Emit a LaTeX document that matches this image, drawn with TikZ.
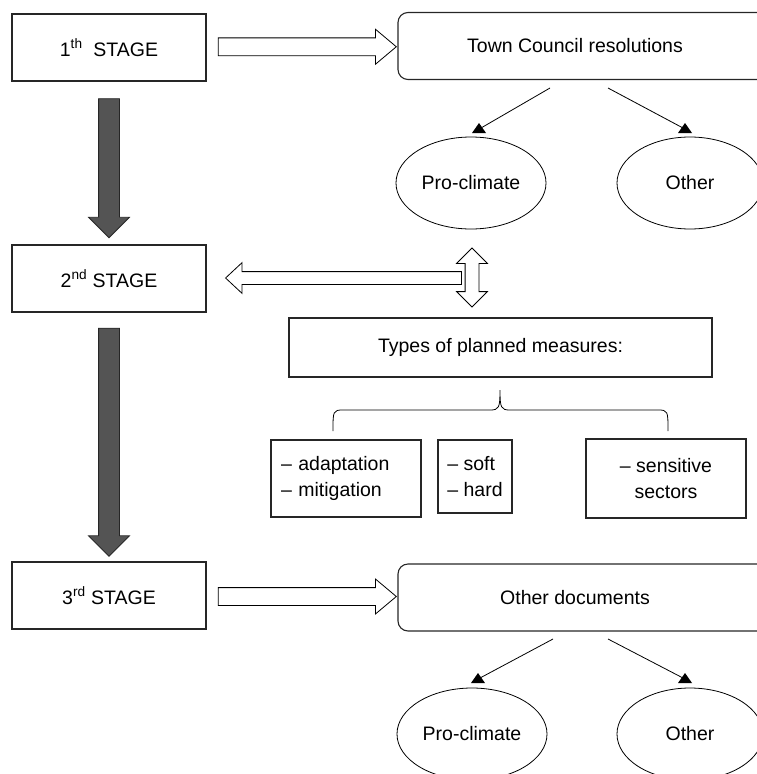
\documentclass[tikz,border=0pt]{standalone}
\usepackage{fontspec}
\setmainfont{Liberation Sans}
\usetikzlibrary{shapes.geometric,shapes.arrows,calc}

\tikzset{
    uphead/.pic = {\fill (-7,5) -- (7,5) -- (0,-5) -- cycle;}
}

\begin{document}
\begin{tikzpicture}[x=1pt, y=-1pt, font=\fontsize{19.5}{25.5}\selectfont,
    stage/.style = {draw=black!85, line width=1.1pt, minimum width=194pt, minimum height=67pt, inner sep=0pt},
    doc/.style = {draw=black!85, line width=1.1pt, rounded corners=10pt, minimum width=372pt, minimum height=67pt, inner sep=0pt},
    oval/.style = {draw, ellipse, line width=0.8pt, minimum width=150pt, minimum height=92pt, inner sep=0pt},
    item/.style = {draw=black!85, line width=1.1pt, inner ysep=0pt},
    hollow/.style = {draw, single arrow, fill=white, line width=0.8pt, inner xsep=0pt, inner ysep=8.5pt, minimum width=34pt, single arrow head extend=8.5pt, single arrow tip angle=80},
    heavy/.style = {draw=black!85, fill=black!67, single arrow, line width=0.8pt, inner xsep=0pt, inner ysep=10pt, minimum width=40pt, single arrow head extend=10pt, single arrow tip angle=90, rotate=-90}]

    \useasboundingbox (0,0) rectangle (756,774);

    \node[stage] (s1) at (109,47.5) {1\textsuperscript{th}\ \ STAGE};
    \node[stage] (s2) at (109,278.5) {2\textsuperscript{nd} STAGE};
    \node[stage] (s3) at (109,595.5) {3\textsuperscript{rd} STAGE};

    \node[heavy, minimum height=139pt] (d1) at ($(s1.south)!0.5!(s2.north)$) {};
    \node[heavy, minimum height=228pt] (d2) at ($(s2.south)!0.5!(s3.north)$) {};

    %--------------------------------------------

    \node[doc] (tc) at (584,46) {};
    \node (tctext) at (575,46) {Town Council resolutions};
    \node[hollow, minimum height=178pt] (a1) at ($(s1.east)!0.5!(tc.west)$) {};

    \node[oval] (pc1) at (471,183) {Pro-climate};
    \node[oval, minimum width=146pt] (ot1) at (690,183) {Other};

    \coordinate (c1) at (550,88);
    \coordinate (c2) at (608,88);
    \coordinate (h1) at (479,128);
    \coordinate (h2) at (685,128);
    \draw[line width=0.8pt] (c1) -- ([xshift=2pt]h1);
    \draw[line width=0.8pt] (c2) -- ([xshift=-2pt]h2);
    \pic at (h1) {uphead};
    \pic at (h2) {uphead};

    %--------------------------------------------

    \node[draw, double arrow, fill=white, line width=0.8pt, inner xsep=0pt, inner ysep=6.5pt, minimum width=30pt, minimum height=59pt,
        double arrow head extend=8.5pt, double arrow tip angle=90, rotate=90] (v2) at (472,277.5) {};
    \node[hollow, inner ysep=6pt, minimum width=30pt, minimum height=236pt, single arrow head extend=9pt, single arrow tip angle=86,
        rotate=180] (a2) at (347,278) {};

    \node[item, minimum width=423pt, minimum height=59pt] (tp) at (500.5,347.5) {Types of planned measures:};

    \draw[line width=0.8pt] (333,431) .. controls (333,411) and (333,410) .. (343,410) -- (490,410)
        .. controls (499,410) and (500,408) .. (500,390) .. controls (500,408) and (501,410) .. (510,410)
        -- (658,410) .. controls (668,410) and (668,411) .. (668,431);

    \node[item, text width=130pt, inner xsep=10pt, minimum height=77pt, align=left] (b1) at (346,478.5) {– adaptation\\– mitigation};
    \node[item, minimum width=74pt, minimum height=73pt, align=left] (b2) at (475,476.5) {– soft\\– hard};
    \node[item, minimum width=160pt, minimum height=79pt, align=center] (b3) at (666,478.5) {– sensitive\\sectors};

    %--------------------------------------------

    \node[doc] (od) at (584,597.5) {};
    \node (odtext) at (575,597.5) {Other documents};
    \node[hollow, minimum height=178pt] (a3) at ($(s3.east)!0.5!(od.west)$) {};

    \node[oval] (pc2) at (472,734) {Pro-climate};
    \node[oval, minimum width=146pt] (ot2) at (690,734) {Other};

    \coordinate (c3) at (553,639);
    \coordinate (c4) at (608,639);
    \coordinate (h3) at (478,678);
    \coordinate (h4) at (685,678);
    \draw[line width=0.8pt] (c3) -- ([xshift=2pt]h3);
    \draw[line width=0.8pt] (c4) -- ([xshift=-2pt]h4);
    \pic at (h3) {uphead};
    \pic at (h4) {uphead};

\end{tikzpicture}
\end{document}
